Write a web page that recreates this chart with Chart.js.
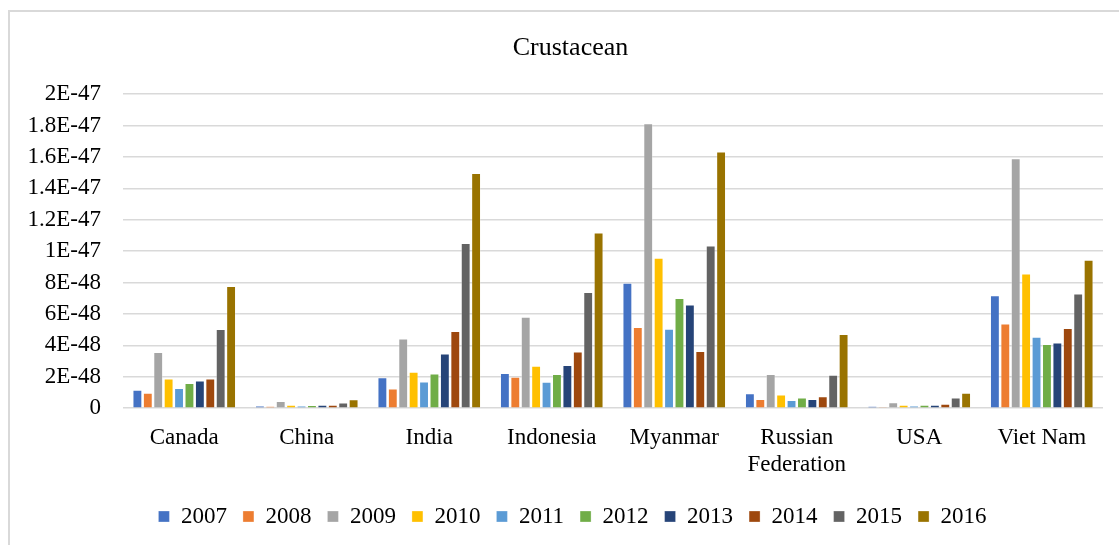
<!DOCTYPE html>
<html>
<head>
<meta charset="utf-8">
<title>Crustacean</title>
<script src="https://cdn.jsdelivr.net/npm/chart.js@4/dist/chart.umd.min.js"></script>
<style>
  html, body { margin: 0; padding: 0; background: #fff; overflow: hidden; width: 1119px; height: 545px; }
  #frame { position: absolute; left: 8px; top: 10px; width: 1400px; height: 800px; border: 2px solid #d9d9d9; box-sizing: border-box; }
  #wrap { position: absolute; left: 8px; top: 10px; width: 1124px; height: 545px; }
</style>
</head>
<body>
<div id="frame"></div>
<div id="wrap"><canvas id="chart"></canvas></div>
<script>
// Countries along the category axis
const countries = ['Canada', 'China', 'India', 'Indonesia', 'Myanmar', ['Russian', 'Federation'], 'USA', 'Viet Nam'];

// Years, one bar series each
const years = ['2007', '2008', '2009', '2010', '2011', '2012', '2013', '2014', '2015', '2016'];

// Values per year, in country order
const v2007 = [1.16e-48, 0.15e-48, 1.95e-48, 2.23e-48, 7.97e-48, 0.93e-48, 0.13e-48, 7.17e-48];
const v2008 = [0.97e-48, 0.12e-48, 1.23e-48, 1.99e-48, 5.15e-48, 0.57e-48, 0.08e-48, 5.38e-48];
const v2009 = [3.56e-48, 0.44e-48, 4.43e-48, 5.81e-48, 18.14e-48, 2.16e-48, 0.36e-48, 15.91e-48];
const v2010 = [1.88e-48, 0.21e-48, 2.31e-48, 2.69e-48, 9.56e-48, 0.85e-48, 0.21e-48, 8.57e-48];
const v2011 = [1.27e-48, 0.15e-48, 1.69e-48, 1.67e-48, 5.05e-48, 0.51e-48, 0.15e-48, 4.54e-48];
const v2012 = [1.59e-48, 0.19e-48, 2.20e-48, 2.16e-48, 7.00e-48, 0.66e-48, 0.21e-48, 4.07e-48];
const v2013 = [1.74e-48, 0.21e-48, 3.46e-48, 2.74e-48, 6.59e-48, 0.57e-48, 0.21e-48, 4.17e-48];
const v2014 = [1.88e-48, 0.21e-48, 4.90e-48, 3.60e-48, 3.63e-48, 0.74e-48, 0.27e-48, 5.09e-48];
const v2015 = [5.03e-48, 0.34e-48, 10.50e-48, 7.38e-48, 10.35e-48, 2.12e-48, 0.66e-48, 7.29e-48];
const v2016 = [7.76e-48, 0.55e-48, 14.97e-48, 11.17e-48, 16.33e-48, 4.71e-48, 0.97e-48, 9.44e-48];

// Value axis ticks and their printed labels
const tickValues = [0, 2e-48, 4e-48, 6e-48, 8e-48, 1e-47, 1.2e-47, 1.4e-47, 1.6e-47, 1.8e-47, 2e-47];
const tickLabels = ['0', '2E-48', '4E-48', '6E-48', '8E-48', '1E-47', '1.2E-47', '1.4E-47', '1.6E-47', '1.8E-47', '2E-47'];

const seriesValues = [v2007, v2008, v2009, v2010, v2011, v2012, v2013, v2014, v2015, v2016];
const palette = ['#4472C4', '#ED7D31', '#A5A5A5', '#FFC000', '#5B9BD5', '#70AD47', '#264478', '#9E480E', '#636363', '#997300'];

const serif = "'Liberation Serif', 'Times New Roman', serif";

// Title and legend are centred on the whole frame rather than on the plot,
// so nudge their boxes to the right after layout.
const centerOnFrame = {
  id: 'centerOnFrame',
  afterLayout(chart) {
    const shifts = [[chart.titleBlock, 15], [chart.legend, 17]];
    for (const [box, dx] of shifts) {
      if (box) { box.left += dx; box.right += dx; }
    }
  }
};

new Chart(document.getElementById('chart'), {
  type: 'bar',
  data: {
    labels: countries,
    datasets: years.map((y, i) => ({
      label: y,
      data: seriesValues[i],
      backgroundColor: palette[i],
      borderColor: 'rgba(255,255,255,0.4)',
      borderWidth: 0.75,
      categoryPercentage: 0.85,
      barPercentage: 0.9
    }))
  },
  plugins: [centerOnFrame],
  options: {
    responsive: true,
    maintainAspectRatio: false,
    animation: false,
    layout: { padding: { left: 0, right: 29, top: 0, bottom: 17 } },
    plugins: {
      title: {
        display: true,
        text: 'Crustacean',
        color: '#000',
        font: { family: serif, size: 26, weight: 'normal' },
        padding: { top: 23, bottom: 30 }
      },
      legend: {
        position: 'bottom',
        labels: {
          color: '#000',
          font: { family: serif, size: 23 },
          boxWidth: 11,
          boxHeight: 11,
          padding: 16
        }
      },
      tooltip: { enabled: false }
    },
    scales: {
      x: {
        grid: { display: false, drawTicks: false },
        border: { display: false },
        afterFit: (scale) => { scale.height -= 5; },
        ticks: {
          color: '#000',
          font: { family: serif, size: 23, lineHeight: 1.17 },
          padding: 16,
          maxRotation: 0,
          autoSkip: false
        }
      },
      y: {
        min: 0,
        max: 2e-47,
        afterBuildTicks: (scale) => { scale.ticks = tickValues.map(v => ({ value: v })); },
        afterFit: (scale) => { scale.width = 115; },
        grid: { color: '#d9d9d9', lineWidth: 1.5, drawTicks: false },
        border: { display: false },
        ticks: {
          color: '#000',
          font: { family: serif, size: 23 },
          padding: 22,
          callback: (value, index) => tickLabels[index]
        }
      }
    }
  }
});
</script>
</body>
</html>
